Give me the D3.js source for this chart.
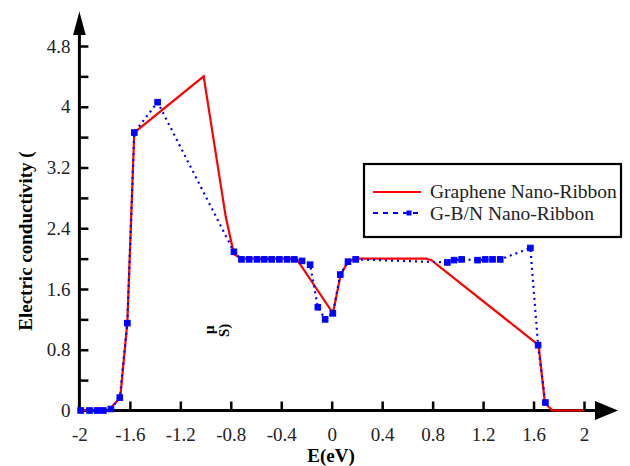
<!doctype html>
<html>
  <head>
    <script src="https://cdnjs.cloudflare.com/ajax/libs/d3/7.8.5/d3.min.js"></script>
    <style>
      body { margin: 0; background: #fff; }
      svg { display: block; }
      svg text { font-family: "Liberation Serif", "DejaVu Serif", "Times New Roman", Times, serif; }
      path.graphene { fill: none; stroke: #ff0000; stroke-width: 2.2; }
      path.gbn { fill: none; stroke: #0000ff; stroke-width: 2.2; stroke-dasharray: 2 4; }
      rect.mark { fill: #0000ff; stroke: #0000ff; stroke-width: 1; }
      .axis path, .axis line { stroke: #000; stroke-width: 2.5; }
      .axis text { font-size: 19px; fill: #222; }
    </style>
  </head>
  <body>
    <div id="chart"></div>
    <script>
      // energy (eV) and conductivity values
      var grapheneE = [-2, -1.77, -1.676, -1.62, -1.565, -1.015, -0.84, -0.775, -0.72, -0.28,
                       0.01, 0.07, 0.13, 0.2, 0.75, 0.79, 1.64, 1.69, 1.75, 2];
      var grapheneS = [0, 0, 0.17, 1.16, 3.66, 4.40, 2.55, 2.06, 2.0, 2.0,
                       1.28, 1.78, 1.97, 2.0, 2.0, 1.98, 0.86, 0.1, 0, 0];

      var gbnE = [-1.99, -1.92, -1.86, -1.81, -1.75, -1.68, -1.62, -1.565, -1.38, -0.775,
                  -0.715, -0.654, -0.593, -0.535, -0.476, -0.415, -0.354, -0.296, -0.235, -0.171,
                  -0.11, -0.052, 0.009, 0.068, 0.129, 0.19, 0.917, 0.97, 1.03, 1.156,
                  1.217, 1.275, 1.336, 1.575, 1.636, 1.694];
      var gbnS = [0, 0, 0, 0, 0.02, 0.17, 1.15, 3.66, 4.06, 2.09,
                  1.99, 1.99, 1.99, 1.99, 1.99, 1.99, 1.99, 1.99, 1.97, 1.92,
                  1.36, 1.20, 1.28, 1.79, 1.96, 1.99, 1.95, 1.98, 1.99, 1.98,
                  1.99, 1.99, 1.99, 2.14, 0.86, 0.105];

      var xTicks = [-2, -1.6, -1.2, -0.8, -0.4, 0, 0.4, 0.8, 1.2, 1.6, 2];
      var xTickLabels = ["-2", "-1.6", "-1.2", "-0.8", "-0.4", "0", "0.4", "0.8", "1.2", "1.6", "2"];
      var yTicks = [0, 0.4, 0.8, 1.2, 1.6, 2, 2.4, 2.8, 3.2, 3.6, 4, 4.4, 4.8];
      var yTickLabels = ["0", "", "0.8", "", "1.6", "", "2.4", "", "3.2", "", "4", "", "4.8"];
      var seriesNames = ["Graphene Nano-Ribbon", "G-B/N Nano-Ribbon"];

      var width = 630, height = 466;

      var svg = d3.select("#chart")
          .append("svg")
              .attr("width", width)
              .attr("height", height);

      var x = d3.scaleLinear().domain([-2, 2]).range([79.4, 584]);
      var y = d3.scaleLinear().domain([0, 4.8]).range([410.5, 46]);

      // axes, ticks pointing into the plot
      var xAxis = d3.axisBottom(x)
          .tickValues(xTicks)
          .tickFormat((d, i) => xTickLabels[i])
          .tickSizeInner(-9).tickSizeOuter(0).tickPadding(17);
      var gx = svg.append("g").attr("class", "axis")
          .attr("transform", "translate(0," + y(0) + ")")
          .call(xAxis);
      gx.attr("font-family", null);
      gx.select(".domain").remove();
      gx.selectAll(".tick").filter(d => d === -2).select("line").remove();

      var yAxis = d3.axisLeft(y)
          .tickValues(yTicks)
          .tickFormat((d, i) => yTickLabels[i])
          .tickSizeInner(-9).tickSizeOuter(0).tickPadding(9);
      var gy = svg.append("g").attr("class", "axis")
          .attr("transform", "translate(" + x(-2) + ",0)")
          .call(yAxis);
      gy.attr("font-family", null);
      gy.select(".domain").remove();
      gy.selectAll(".tick").filter(d => d === 0).select("line").remove();

      // axis lines with arrow heads
      svg.append("line").attr("x1", x(-2)).attr("x2", 598)
          .attr("y1", y(0)).attr("y2", y(0))
          .attr("stroke", "#000").attr("stroke-width", 3);
      svg.append("path")
          .attr("d", "M595," + (y(0) - 9.5) + "L618," + y(0) + "L595," + (y(0) + 9.5) + "Z")
          .attr("fill", "#000");
      svg.append("line").attr("x1", x(-2)).attr("x2", x(-2))
          .attr("y1", y(0) + 1.5).attr("y2", 32)
          .attr("stroke", "#000").attr("stroke-width", 3);
      svg.append("path")
          .attr("d", "M" + (x(-2) - 6.3) + ",35L" + x(-2) + ",11.5L" + (x(-2) + 6.3) + ",35Z")
          .attr("fill", "#000");

      // axis titles
      svg.append("text")
          .attr("x", 331).attr("y", 462)
          .attr("text-anchor", "middle")
          .style("font-size", "19px").style("font-weight", "bold")
          .text("E(eV)");
      svg.append("text")
          .attr("transform", "translate(32,241) rotate(-90)")
          .attr("text-anchor", "middle")
          .style("font-size", "19px").style("font-weight", "bold")
          .text("Electric conductivity (");
      // stray piece of the unit
      svg.append("text")
          .attr("transform", "translate(214,334) rotate(-90)")
          .style("font-size", "15px").style("font-weight", "bold")
          .text("μ");
      svg.append("text")
          .attr("transform", "translate(229,337) rotate(-90)")
          .style("font-size", "15px").style("font-weight", "bold")
          .text("S)");

      var line = d3.line().x(d => x(d[0])).y(d => y(d[1]));
      var graphene = d3.zip(grapheneE, grapheneS);
      var gbn = d3.zip(gbnE, gbnS);

      svg.append("path").datum(graphene)
          .attr("class", "graphene")
          .attr("d", line);

      svg.append("path").datum(gbn)
          .attr("class", "gbn")
          .attr("d", line);

      svg.selectAll("rect.mark")
        .data(gbn)
        .enter()
        .append("rect")
          .attr("class", "mark")
          .attr("x", d => x(d[0]) - 2.8)
          .attr("y", d => y(d[1]) - 2.8)
          .attr("width", 5.6)
          .attr("height", 5.6);

      // legend
      var legend = svg.append("g");
      legend.append("rect")
          .attr("x", 364).attr("y", 164).attr("width", 257).attr("height", 73)
          .attr("fill", "#fff").attr("stroke", "#000").attr("stroke-width", 2.2);
      legend.append("line")
          .attr("x1", 373).attr("x2", 421).attr("y1", 192).attr("y2", 192)
          .attr("stroke", "#ff0000").attr("stroke-width", 2.2);
      legend.append("line")
          .attr("x1", 373).attr("x2", 418).attr("y1", 213).attr("y2", 213)
          .attr("stroke", "#0000ff").attr("stroke-width", 2.2)
          .attr("stroke-dasharray", "5 5");
      legend.append("rect")
          .attr("x", 406.5).attr("y", 210.5).attr("width", 5).attr("height", 5)
          .attr("fill", "#0000ff");
      legend.selectAll("text.leg")
        .data(seriesNames)
        .enter()
        .append("text")
          .attr("class", "leg")
          .attr("x", 430)
          .attr("y", (d, i) => 198 + i * 22)
          .style("font-size", "19.5px")
          .style("fill", "#222")
          .text(d => d);
    </script>
  </body>
</html>
